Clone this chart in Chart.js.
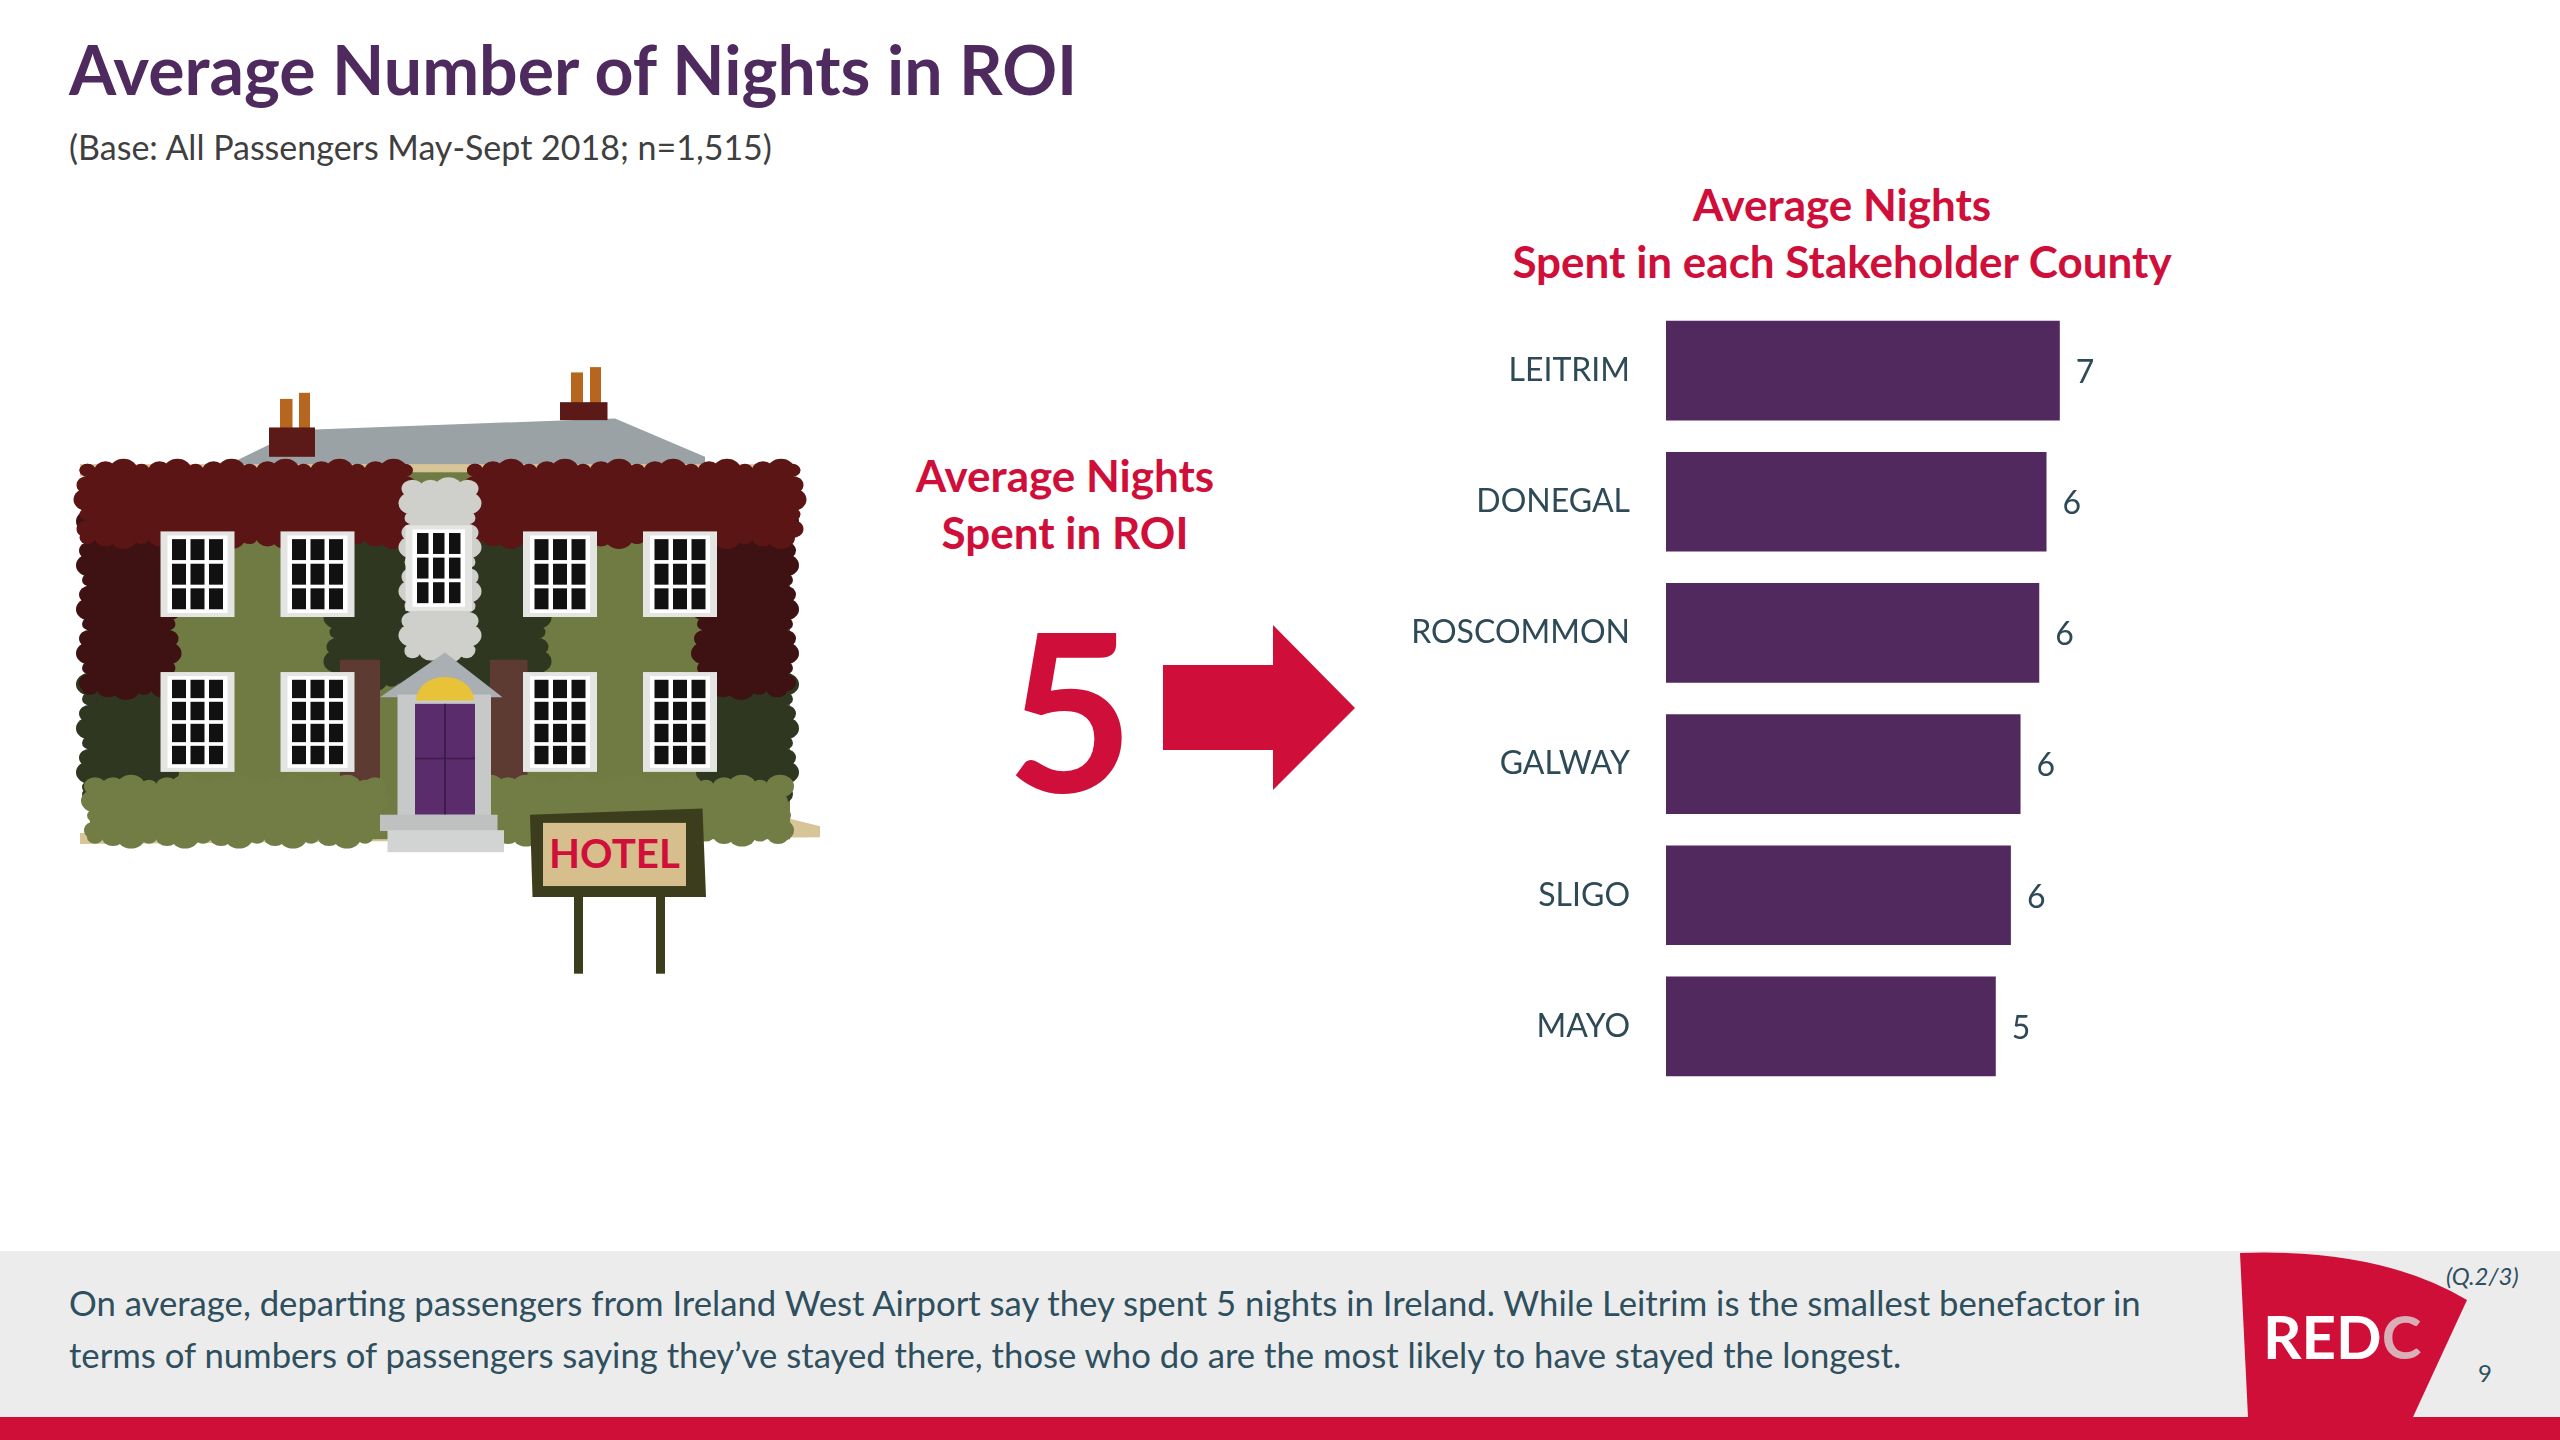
<!DOCTYPE html>
<html>
<head>
<meta charset="utf-8">
<script src="https://cdn.jsdelivr.net/npm/chart.js@4.4.1/dist/chart.umd.min.js"></script>
<style>
  html, body { margin: 0; padding: 0; }
  body { width: 2560px; height: 1440px; background: #fff; position: relative; overflow: hidden; font-family: Lato, 'Open Sans', sans-serif; }
  .abs { position: absolute; }
  #title { left: 69px; top: 35px; font-size: 68px; line-height: 68px; font-weight: 700; color: #4E2A5E; white-space: nowrap; }
  #subtitle { left: 69px; top: 130px; font-size: 34px; line-height: 34px; color: #3F3F3F; white-space: nowrap; }
  .redhead { font-size: 44px; line-height: 57px; font-weight: 700; color: #CF0F3A; text-align: center; white-space: nowrap; }
  #chartTitle { left: 1392px; top: 176px; width: 900px; }
  #roiTitle { left: 765px; top: 447px; width: 600px; }
  #bigNumber { left: 920px; top: 597px; width: 300px; text-align: center; font-size: 220px; line-height: 220px; font-weight: 700; color: #CF0F3A; }
  #chartBox { left: 1380px; top: 305px; width: 890px; height: 787px; }
  #footer { left: 0; top: 1251px; width: 2560px; height: 166px; background: #EDECEC; }
  #footStrip { left: 0; top: 1417px; width: 2560px; height: 23px; background: #CF0F37; }
  #footText { left: 69px; top: 1277px; font-size: 34.7px; line-height: 52px; color: #2E4F5E; white-space: nowrap; }
  #qref { left: 2446px; top: 1261px; font-size: 24px; font-style: italic; color: #2E4F5E; }
  #pageNo { left: 2478px; top: 1358px; font-size: 24px; color: #2E4F5E; }
</style>
</head>
<body>

<div id="title" class="abs">Average Number of Nights in ROI</div>
<div id="subtitle" class="abs">(Base: All Passengers May-Sept 2018; n=1,515)</div>

<svg id="hotel" class="abs" style="left:60px;top:350px" width="780" height="640" viewBox="0 0 1560 1570" preserveAspectRatio="none"></svg>

<div id="roiTitle" class="abs redhead">Average Nights<br>Spent in ROI</div>
<div id="bigNumber" class="abs"></div>
<svg class="abs" style="left:0;top:0" width="2560" height="1000">
  <polygon points="1163,665 1273,665 1273,625 1355,708 1273,790 1273,750 1163,750" fill="#CF0F3A"/>
</svg>

<div id="chartTitle" class="abs redhead">Average Nights<br>Spent in each Stakeholder County</div>
<div id="chartBox" class="abs"><canvas id="myChart"></canvas></div>

<div id="footer" class="abs"></div>
<div id="footStrip" class="abs"></div>
<svg class="abs" style="left:2200px;top:1230px" width="360" height="210" viewBox="2200 1230 360 210">
  <path d="M2240,1253 Q2380,1248 2467,1300 L2413,1417 L2248,1417 Z" fill="#CF0F37"/>
  <text x="2263" y="1359" font-family="Lato" font-weight="700" font-size="60" fill="#fff">RED<tspan fill="#D9AEB6">C</tspan></text>
</svg>
<div id="footText" class="abs">On average, departing passengers from Ireland West Airport say they spent 5 nights in Ireland. While Leitrim is the smallest benefactor in<br>terms of numbers of passengers saying they’ve stayed there, those who do are the most likely to have stayed the longest.</div>
<div id="qref" class="abs">(Q.2/3)</div>
<div id="pageNo" class="abs">9</div>

<script>
// Datos del gráfico
const counties = ['LEITRIM', 'DONEGAL', 'ROSCOMMON', 'GALWAY', 'SLIGO', 'MAYO'];
const avgNights = [6.52, 6.30, 6.18, 5.87, 5.71, 5.46];
const roiAverage = 5;

document.getElementById('bigNumber').textContent = roiAverage;

// Etiquetas de valor al final de cada barra (redondeadas como en la diapositiva)
const valueLabels = {
    id: 'valueLabels',
    afterDatasetsDraw(chart) {
        const ctx = chart.ctx;
        const meta = chart.getDatasetMeta(0);
        ctx.save();
        ctx.font = '32px Lato';
        ctx.fillStyle = '#2E4A57';
        ctx.textBaseline = 'middle';
        ctx.textAlign = 'left';
        meta.data.forEach((bar, i) => {
            ctx.fillText(Math.round(avgNights[i]), bar.x + 16, bar.y + 2);
        });
        ctx.restore();
    }
};

const ctx = document.getElementById('myChart').getContext('2d');
new Chart(ctx, {
    type: 'bar',
    data: {
        labels: counties,
        datasets: [{
            data: avgNights,
            backgroundColor: '#52295E',
            borderWidth: 0,
            barPercentage: 0.76,
            categoryPercentage: 1
        }]
    },
    options: {
        indexAxis: 'y',
        responsive: true,
        maintainAspectRatio: false,
        animation: false,
        devicePixelRatio: 1,
        layout: { padding: 0 },
        plugins: {
            legend: { display: false },
            tooltip: { enabled: false }
        },
        scales: {
            x: { display: false, min: 0, max: 10 },
            y: {
                grid: { display: false, drawTicks: false },
                border: { display: false },
                ticks: {
                    font: { family: 'Lato', size: 32 },
                    color: '#2E4A57',
                    padding: 36
                },
                afterFit(scale) {
                    // ancho fijo del eje y sin relleno arriba/abajo
                    scale.width = 286;
                    scale.paddingTop = 0;
                    scale.paddingBottom = 0;
                }
            }
        }
    },
    plugins: [valueLabels]
});

// Dibujo del hotel (decorativo), en SVG simple
function circle(x, y, r, c) {
    return `<circle cx="${x}" cy="${y}" r="${r}" fill="${c}"/>`;
}
function rect(x1, y1, x2, y2, c) {
    return `<rect x="${x1}" y="${y1}" width="${x2 - x1}" height="${y2 - y1}" fill="${c}"/>`;
}
// rectángulo con bordes ondulados para la hiedra
function ivy(x1, y1, x2, y2, c) {
    let s = rect(x1, y1, x2, y2, c);
    let k = 0;
    for (let x = x1; x <= x2; x += 36) {
        const r = 16 + (k++ % 3) * 6;
        s += circle(x, y1, r, c) + circle(x, y2, r, c);
    }
    for (let y = y1; y <= y2; y += 36) {
        const r = 16 + (k++ % 3) * 6;
        s += circle(x1, y, r, c) + circle(x2, y, r, c);
    }
    return s;
}
function windowBox(x, y, w, h, rows) {
    let s = rect(x - 14, y - 10, x + w + 14, y + h + 10, '#E4E4E2');
    s += rect(x, y, x + w, y + h, '#FFFFFF');
    const gap = 9;
    const pw = (w - gap * 4) / 3;
    const ph = (h - gap * (rows + 1)) / rows;
    for (let c = 0; c < 3; c++) {
        for (let r = 0; r < rows; r++) {
            const px = x + gap + c * (pw + gap);
            const py = y + gap + r * (ph + gap);
            s += rect(px, py, px + pw, py + ph, '#111111');
        }
    }
    return s;
}

let h = '';
// tejado y chimeneas
h += '<polygon points="330,285 430,225 510,195 1110,168 1290,262 1290,290" fill="#9AA2A6"/>';
h += rect(440, 120, 465, 195, '#B6661F') + rect(478, 105, 500, 195, '#B6661F') + rect(418, 190, 510, 262, '#5B1A17');
h += rect(1022, 55, 1046, 130, '#B6661F') + rect(1060, 42, 1082, 130, '#B6661F') + rect(1000, 128, 1095, 172, '#5B1A17');
// cornisa y muro
h += rect(40, 280, 1470, 310, '#D8C597');
h += '<polygon points="40,1185 1460,1150 1520,1168 1520,1195 40,1212" fill="#D8C597"/>';
h += rect(60, 300, 1460, 1200, '#6F7B42');
// hiedra
h += ivy(60, 820, 210, 1090, '#2F3720') + ivy(1300, 820, 1450, 1090, '#2F3720');
h += ivy(60, 420, 215, 830, '#3E1113') + ivy(1290, 420, 1450, 830, '#3E1113');
h += ivy(555, 440, 715, 810, '#2F3720') + ivy(800, 440, 955, 810, '#2F3720');
h += ivy(55, 295, 690, 460, '#5B1515') + ivy(830, 295, 1465, 460, '#5B1515');
h += ivy(705, 340, 815, 740, '#CFCFCB');
h += rect(560, 760, 640, 1080, '#5D3A32') + rect(860, 760, 935, 1080, '#5D3A32');
// ventanas
[215, 455, 940, 1180].forEach(x => { h += windowBox(x, 455, 120, 190, 3); });
h += windowBox(705, 440, 105, 190, 3);
[215, 455, 940, 1180].forEach(x => { h += windowBox(x, 800, 120, 225, 4); });
// arbustos inferiores
h += ivy(70, 1070, 630, 1195, '#717D45') + ivy(860, 1070, 1440, 1190, '#717D45');
// puerta
h += '<polygon points="640,852 770,742 885,852" fill="#A9AFB3"/>';
h += rect(675, 845, 862, 1150, '#C7C9C9');
h += '<path d="M712,860 A58,58 0 0 1 828,860 Z" fill="#E8C33A"/>';
h += rect(710, 868, 830, 1140, '#5A2C6C');
h += rect(768, 868, 772, 1140, '#3E1C4C') + rect(710, 1000, 830, 1004, '#3E1C4C');
h += rect(640, 1140, 875, 1180, '#BFC1C1') + rect(655, 1178, 888, 1232, '#D2D3D3');
// cartel
h += rect(1028, 1335, 1046, 1530, '#3B3D1C') + rect(1192, 1335, 1210, 1530, '#3B3D1C');
h += '<polygon points="940,1140 1285,1125 1292,1342 945,1342" fill="#3B3D1C"/>';
h += rect(966, 1160, 1252, 1315, '#D6BF8C');
h += '<text x="978" y="1270" font-family="Lato" font-weight="700" font-size="100" textLength="262" lengthAdjust="spacingAndGlyphs" fill="#D0103A">HOTEL</text>';
document.getElementById('hotel').innerHTML = h;
</script>
</body>
</html>
